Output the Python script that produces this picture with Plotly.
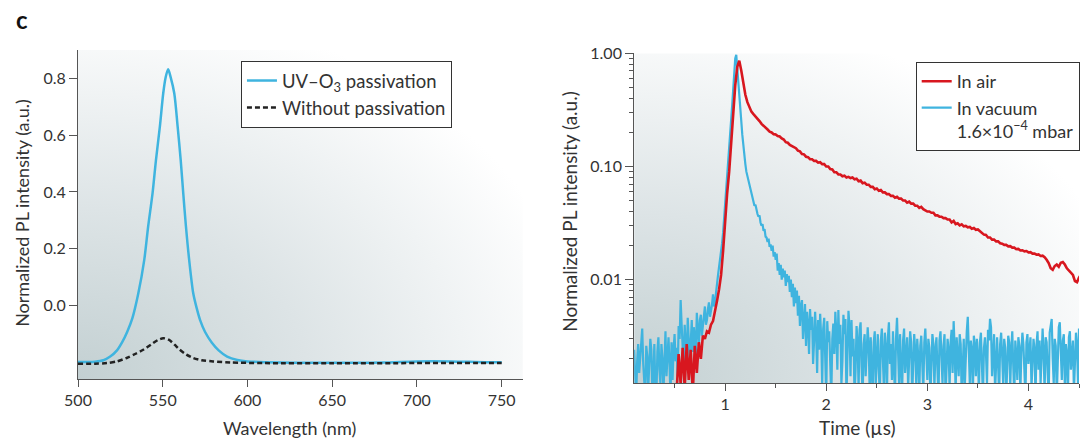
import base64
import numpy as np
import plotly.graph_objects as go

# ---------------- data: left panel (steady-state PL) ----------------
wavelength_uv = [500, 505, 510, 515, 519, 523, 526, 529, 532, 535.6, 539.1, 541.4, 544, 546,
                 548.3, 550.3, 551.7, 553.2, 554.7, 556.8, 558.8, 560.6, 562.1, 563.7, 565.6,
                 568, 570, 572, 575, 579, 583, 588, 594, 600, 620, 650, 680, 700, 720, 740, 750]
pl_uv = [-0.201, -0.201, -0.200, -0.195, -0.182, -0.160, -0.132, -0.095, -0.048, 0.042, 0.160,
         0.278, 0.396, 0.513, 0.631, 0.749, 0.805, 0.834, 0.805, 0.749, 0.631, 0.513, 0.396,
         0.278, 0.160, 0.042, -0.010, -0.052, -0.095, -0.133, -0.160, -0.182, -0.194, -0.199,
         -0.203, -0.204, -0.203, -0.199, -0.199, -0.202, -0.202]

wavelength_ref = [500, 510, 517, 523, 528.7, 534, 538.5, 543, 547, 550.3, 553.5, 557, 560.1,
                  564, 568, 573, 579.8, 590, 610, 650, 700, 750]
pl_ref = [-0.207, -0.207, -0.205, -0.199, -0.187, -0.172, -0.158, -0.140, -0.124, -0.117,
          -0.122, -0.140, -0.158, -0.175, -0.187, -0.195, -0.199, -0.203, -0.205, -0.206,
          -0.205, -0.205]

# ---------------- data: right panel (time-resolved PL) ----------------
# In vacuum: read every 0.01 µs from 0.10 µs, in units of 1e-4
time_start_vac = 0.10
time_step_vac = 0.01
pl_vacuum_1e4 = [
    # 0.10 - 0.93
    24, 12, 9, 19, 27, 15, 22, 30, 37, 18, 13, 9, 26, 21, 11, 17, 30, 24, 10, 14,
    27, 11, 9, 23, 31, 16, 12, 27, 20, 10, 25, 35, 14, 22, 31, 18, 9, 28, 13, 24,
    33, 19, 25, 14, 39, 30, 66, 40, 21, 16, 40, 27, 18, 46, 33, 19, 28, 44, 23, 38,
    31, 22, 51, 35, 26, 44, 49, 32, 39, 48, 58, 40, 44, 55, 63, 47, 52, 60, 74, 58,
    64, 80, 95, 110,
    # 0.94 - 1.71
    130, 150, 170, 210, 260, 340, 450, 600, 800, 1050, 1400, 1900, 2600, 3500, 4800, 6800,
    9000, 9700, 7200, 5000,
    3800, 3300, 2500, 1900, 1500, 1250, 1050, 900, 820, 740, 690, 610, 590, 520, 490, 450,
    460, 400, 380, 360,
    370, 320, 300, 310, 270, 280, 240, 235, 215, 230, 195, 205, 180, 200, 160, 175, 150, 170,
    120, 140,
    110, 135, 100, 125, 105, 120, 88, 112, 95, 108, 78, 100, 70, 92, 58, 85, 62, 80,
    # 1.72 - 4.51
    48, 72, 39, 58, 66, 30, 45, 61, 26, 52, 40, 22, 55, 36, 47, 18, 29, 52, 33, 15,
    44, 24, 50, 31, 12, 37, 46, 20, 9, 43, 28, 35, 14, 9, 30, 41, 22, 52, 34, 16,
    54, 27, 40, 12, 19, 49, 33, 45, 9, 25, 53, 38, 14, 44, 21, 30, 9, 16, 39, 28,
    11, 36, 42, 17, 9, 27, 33, 14, 22, 38, 26, 10, 31, 19, 9, 28, 35, 12, 24, 33,
    16, 9, 29, 37, 20, 11, 34, 25, 9, 31, 42, 18, 27, 13, 35, 22, 9, 30, 46, 24,
    12, 33, 20, 9, 29, 37, 15, 26, 31, 11, 22, 35, 28, 9, 18, 33, 24, 12, 30, 21,
    9, 26, 32, 17, 10, 28, 37, 22, 13, 30, 25, 9, 20, 33, 27, 11, 24, 31, 16, 9,
    29, 35, 21, 12, 26, 33, 9, 18, 30, 24, 11, 28, 36, 15, 43, 25, 10, 31, 22, 14,
    33, 27, 9, 20, 30, 11, 26, 35, 47, 19, 12, 29, 24, 9, 32, 26, 14, 30, 21, 10,
    28, 34, 17, 9, 25, 31, 22, 12, 36, 29, 45, 38, 14, 26, 33, 10, 23, 31, 18, 9,
    27, 34, 21, 12, 30, 25, 9, 19, 32, 28, 11, 24, 35, 17, 9, 29, 22, 13, 31, 26,
    10, 23, 34, 27, 12, 9, 28, 33, 18, 25, 31, 11, 20, 30, 24, 9, 27, 35, 16, 29,
    12, 26, 37, 22, 10, 31, 28, 15, 9, 34, 41, 45, 20, 12, 30, 26, 9, 18, 38, 42,
    25, 13, 29, 33, 11, 27, 22, 9, 31, 35, 16, 24, 29, 10, 22, 34, 26, 12, 37, 30]

# In air: read every 0.02 µs from 0.52 µs
time_start_air = 0.52
time_step_air = 0.02
pl_air = [
    0.0010, 0.0022, 0.0012, 0.0025, 0.0011, 0.0027, 0.0013, 0.0024, 0.0010, 0.0026, 0.0015,
    0.0028, 0.0020, 0.0032, 0.0030, 0.0035, 0.0034, 0.0040, 0.0043, 0.0052, 0.0065, 0.0082,
    0.011, 0.018, 0.034, 0.058, 0.090, 0.17, 0.31, 0.52, 0.76, 0.86, 0.70, 0.53, 0.43, 0.37,
    0.33, 0.305, 0.29, 0.278, 0.262, 0.252, 0.238, 0.230, 0.218, 0.212, 0.203, 0.200, 0.193,
    0.192, 0.186, 0.184, 0.177, 0.173, 0.164, 0.162, 0.155, 0.152, 0.147, 0.145, 0.138, 0.136,
    0.129, 0.128, 0.122, 0.121, 0.116, 0.116, 0.112, 0.112, 0.108, 0.109, 0.105, 0.105, 0.100,
    0.100, 0.095, 0.094, 0.089, 0.089, 0.085, 0.085, 0.082, 0.083, 0.080, 0.081, 0.079, 0.080,
    0.077, 0.078, 0.074, 0.075, 0.071, 0.072, 0.069, 0.069, 0.066, 0.066, 0.063, 0.064, 0.061,
    0.062, 0.059, 0.059, 0.057, 0.057, 0.055, 0.055, 0.053, 0.054, 0.052, 0.052, 0.050, 0.050,
    0.048, 0.049, 0.047, 0.047, 0.045, 0.045, 0.043, 0.044, 0.042, 0.041, 0.040, 0.040, 0.039,
    0.039, 0.037, 0.037, 0.036, 0.036, 0.035, 0.035, 0.034, 0.034, 0.032, 0.033, 0.031, 0.0315,
    0.0302, 0.0308, 0.0296, 0.0298, 0.0290, 0.0292, 0.0282, 0.0286, 0.0276, 0.0278, 0.0268,
    0.0262, 0.0250, 0.0248, 0.0236, 0.0236, 0.0226, 0.0226, 0.0218, 0.0218, 0.0210, 0.0208,
    0.0203, 0.0203, 0.0197, 0.0198, 0.0192, 0.0192, 0.0186, 0.0187, 0.0181, 0.0182, 0.0178,
    0.0179, 0.0174, 0.0175, 0.0170, 0.0170, 0.0166, 0.0167, 0.0162, 0.0163, 0.0158, 0.0150,
    0.0140, 0.0126, 0.0122, 0.0132, 0.0136, 0.0130, 0.0141, 0.0143, 0.0136, 0.0126, 0.0120,
    0.0116, 0.0110, 0.0097, 0.0095, 0.0104, 0.0111, 0.0107]

pl_vacuum = np.array(pl_vacuum_1e4, dtype=float) * 1e-4
time_vac = np.round(time_start_vac + time_step_vac * np.arange(len(pl_vacuum)), 3)
time_air = np.round(time_start_air + time_step_air * np.arange(len(pl_air)), 3)

BLUE = "#3fb4df"
RED = "#d8171f"
TEXT = "#333333"
AXIS = "#555555"
FONT = "Lato, 'Open Sans', sans-serif"

W, H = 1090, 442
ML, MR, MT, MB = 78.0, 10.7, 50.0, 58.7
PW, PH = W - ML - MR, H - MT - MB


def px_x(p):
    return (p - ML) / PW


def px_y(p):
    return (H - MB - p) / PH


def gradient_uri():
    svg = ('<svg xmlns="http://www.w3.org/2000/svg" width="100" height="100" viewBox="0 0 100 100" '
           'preserveAspectRatio="none"><defs><radialGradient id="g" cx="0" cy="1" r="1.15" '
           'gradientUnits="objectBoundingBox"><stop offset="0" stop-color="#c3d0d2"/>'
           '<stop offset="0.45" stop-color="#dde4e6"/><stop offset="1" stop-color="#ffffff"/>'
           '</radialGradient></defs><rect width="100" height="100" fill="url(#g)"/></svg>')
    return "data:image/svg+xml;base64," + base64.b64encode(svg.encode()).decode()


fig = go.Figure()

fig.add_trace(go.Scatter(x=wavelength_uv, y=pl_uv, mode="lines", name="UV–O<sub>3</sub> passivation",
                         line=dict(color=BLUE, width=2.5, shape="spline", smoothing=0.8),
                         xaxis="x", yaxis="y", legend="legend"))
fig.add_trace(go.Scatter(x=wavelength_ref, y=pl_ref, mode="lines", name="Without passivation",
                         line=dict(color="#222222", width=2.5, dash="5px,3px", shape="spline", smoothing=0.8),
                         xaxis="x", yaxis="y", legend="legend"))
fig.add_trace(go.Scatter(x=time_vac, y=pl_vacuum, mode="lines",
                         name="In vacuum<br>1.6×10<sup>−4</sup> mbar",
                         line=dict(color=BLUE, width=2.2), legendrank=2,
                         xaxis="x2", yaxis="y2", legend="legend2"))
fig.add_trace(go.Scatter(x=time_air, y=pl_air, mode="lines", name="In air",
                         line=dict(color=RED, width=2.6), legendrank=1,
                         xaxis="x2", yaxis="y2", legend="legend2"))

axis_common = dict(showline=True, linecolor=AXIS, linewidth=1, ticks="outside", tickcolor=AXIS,
                   tickwidth=1, showgrid=False, zeroline=False, automargin=False,
                   tickfont=dict(size=16, color=TEXT, family=FONT))

minor_log = [k * 10.0 ** e for e in (-3, -2, -1) for k in range(2, 10)]

title_font = dict(size=18, color=TEXT, family=FONT)
title_font_r = dict(size=19, color=TEXT, family=FONT)

fig.update_layout(
    width=W, height=H, margin=dict(l=ML, r=MR, t=MT, b=MB, pad=0, autoexpand=False),
    paper_bgcolor="white", plot_bgcolor="rgba(0,0,0,0)",
    font=dict(family=FONT, color=TEXT, size=16),
    xaxis=dict(axis_common, domain=[px_x(78), px_x(523)], range=[500, 762.5],
               tickvals=[500, 550, 600, 650, 700, 750], ticklen=7, anchor="y"),
    yaxis=dict(axis_common, domain=[px_y(379.5), px_y(50)], range=[-0.262, 0.902],
               tickvals=[0.0, 0.2, 0.4, 0.6, 0.8], tickformat=".1f", ticklen=8, anchor="x"),
    xaxis2=dict(axis_common, domain=[px_x(634.3), px_x(1079.3)], range=[0.1, 4.5],
                tickvals=[1, 2, 3, 4], ticklen=7, anchor="y2",
                minor=dict(ticks="outside", ticklen=4, tickcolor=AXIS, dtick=0.5, tick0=0)),
    yaxis2=dict(axis_common, type="log", domain=[px_y(383.3), px_y(53.3)], range=[-2.913, 0],
                tickvals=[0.01, 0.1, 1], ticktext=["0.01", "0.10", "1.00"], ticklen=8, anchor="x2",
                minor=dict(ticks="outside", ticklen=4, tickcolor=AXIS, tickvals=minor_log)),
    legend=dict(x=px_x(241), y=px_y(61), xanchor="left", yanchor="top", bgcolor="white",
                bordercolor="#333333", borderwidth=1, font=dict(size=18.5, color=TEXT),
                tracegroupgap=0, itemwidth=30),
    legend2=dict(x=px_x(1080), y=px_y(62), xanchor="right", yanchor="top", bgcolor="white",
                 bordercolor="#333333", borderwidth=1, font=dict(size=18, color=TEXT),
                 valign="top", itemwidth=30),
    showlegend=True,
    images=[
        dict(source=gradient_uri(), xref="x domain", yref="y domain", x=0, y=1, sizex=1, sizey=1,
             xanchor="left", yanchor="top", sizing="stretch", layer="below"),
        dict(source=gradient_uri(), xref="x2 domain", yref="y2 domain", x=0, y=1, sizex=1, sizey=1,
             xanchor="left", yanchor="top", sizing="stretch", layer="below"),
    ],
    annotations=[
        dict(text="<b>c</b>", x=px_x(14), y=px_y(19), xref="paper", yref="paper",
             xanchor="left", yanchor="middle", showarrow=False,
             font=dict(size=24, color="#111111", family=FONT)),
        dict(text="Wavelength (nm)", x=px_x(290), y=px_y(428), xref="paper", yref="paper",
             xanchor="center", yanchor="middle", showarrow=False, font=title_font),
        dict(text="Time (µs)", x=px_x(858), y=px_y(428), xref="paper", yref="paper",
             xanchor="center", yanchor="middle", showarrow=False, font=title_font_r),
        dict(text="Normalized PL intensity (a.u.)", x=px_x(22), y=px_y(213), xref="paper",
             yref="paper", xanchor="center", yanchor="middle", textangle=-90, showarrow=False,
             font=title_font),
        dict(text="Normalized PL intensity (a.u.)", x=px_x(570), y=px_y(212), xref="paper",
             yref="paper", xanchor="center", yanchor="middle", textangle=-90, showarrow=False,
             font=title_font_r),
    ],
)

fig.write_html("out.html")
